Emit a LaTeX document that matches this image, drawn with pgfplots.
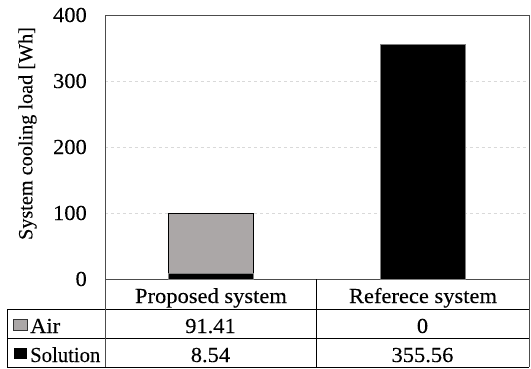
\documentclass[border=0pt]{standalone}
\usepackage{fontspec}
\setmainfont[FakeStretch=1.05, FakeBold=0.15]{Liberation Serif}
\newfontfamily\labelfont[FakeBold=0.15]{Liberation Serif}
\usepackage{graphicx}
\usepackage{pgfplots}
\pgfplotsset{compat=1.18}
\definecolor{airgray}{HTML}{ABA7A7}
\definecolor{gridgray}{HTML}{D9D9D9}
\begin{document}
\fontsize{21.5}{25}\selectfont
\begin{tikzpicture}[x=1bp,y=1bp]
\begin{axis}[
  at={(105bp,89bp)}, anchor=south west,
  scale only axis, width=424bp, height=264bp,
  xmin=0, xmax=2, ymin=0, ymax=400,
  ybar stacked, bar width=85bp,
  xtick={0.5,1.5}, xticklabels={Proposed system, Referece system},
  xticklabel style={anchor=base, inner sep=0pt, yshift=-24bp},
  ytick={0,100,200,300,400},
  yticklabels={0,100,200,300,400},
  yticklabel style={anchor=east, inner sep=0pt, xshift=-18bp},
  major tick length=0pt,
  ymajorgrids, grid style={dashed, gridgray, line width=0.6pt},
  axis line style={black!70, line width=0.9pt},
  tick style={draw=none},
]
\addplot[fill=black, draw=gray, line width=0.6pt] coordinates {(0.5,8.54) (1.5,355.56)};
\addplot[fill=airgray, draw=black, line width=0.7pt] coordinates {(0.5,91.41)};
\end{axis}
% data table
\begin{scope}[line width=0.9pt, black]
\draw (7,59) -- (529,59);
\draw (7,30) -- (529,30);
\draw (7,1) -- (529,1);
\draw (7,59) -- (7,1);
\draw[black!70] (105,89) -- (105,1);
\draw (316,89) -- (316,1);
\draw[black!70] (529,89) -- (529,1);
\end{scope}
\draw[fill=airgray, draw=black!80, line width=0.6pt] (13.5,37.5) rectangle (27,49);
\fill[black] (13.5,9) rectangle (27,20.5);
\node[anchor=base west, inner sep=0pt] at (30,35) {Air};
\node[anchor=base west, inner sep=0pt] at (30,6) {\scalebox{0.92}[1]{Solution}};
\node[anchor=base, inner sep=0pt] at (210.5,35) {91.41};
\node[anchor=base, inner sep=0pt] at (422.5,35) {0};
\node[anchor=base, inner sep=0pt] at (210.5,6) {8.54};
\node[anchor=base, inner sep=0pt] at (422.5,6) {355.56};
\node[inner sep=0pt] at (27.5,234.5) {\rotatebox{90}{\labelfont\fontsize{20.3}{24}\selectfont System cooling load [Wh]}};
\pgfresetboundingbox
\path[use as bounding box] (0,0) rectangle (531,368);
\end{tikzpicture}
\end{document}
